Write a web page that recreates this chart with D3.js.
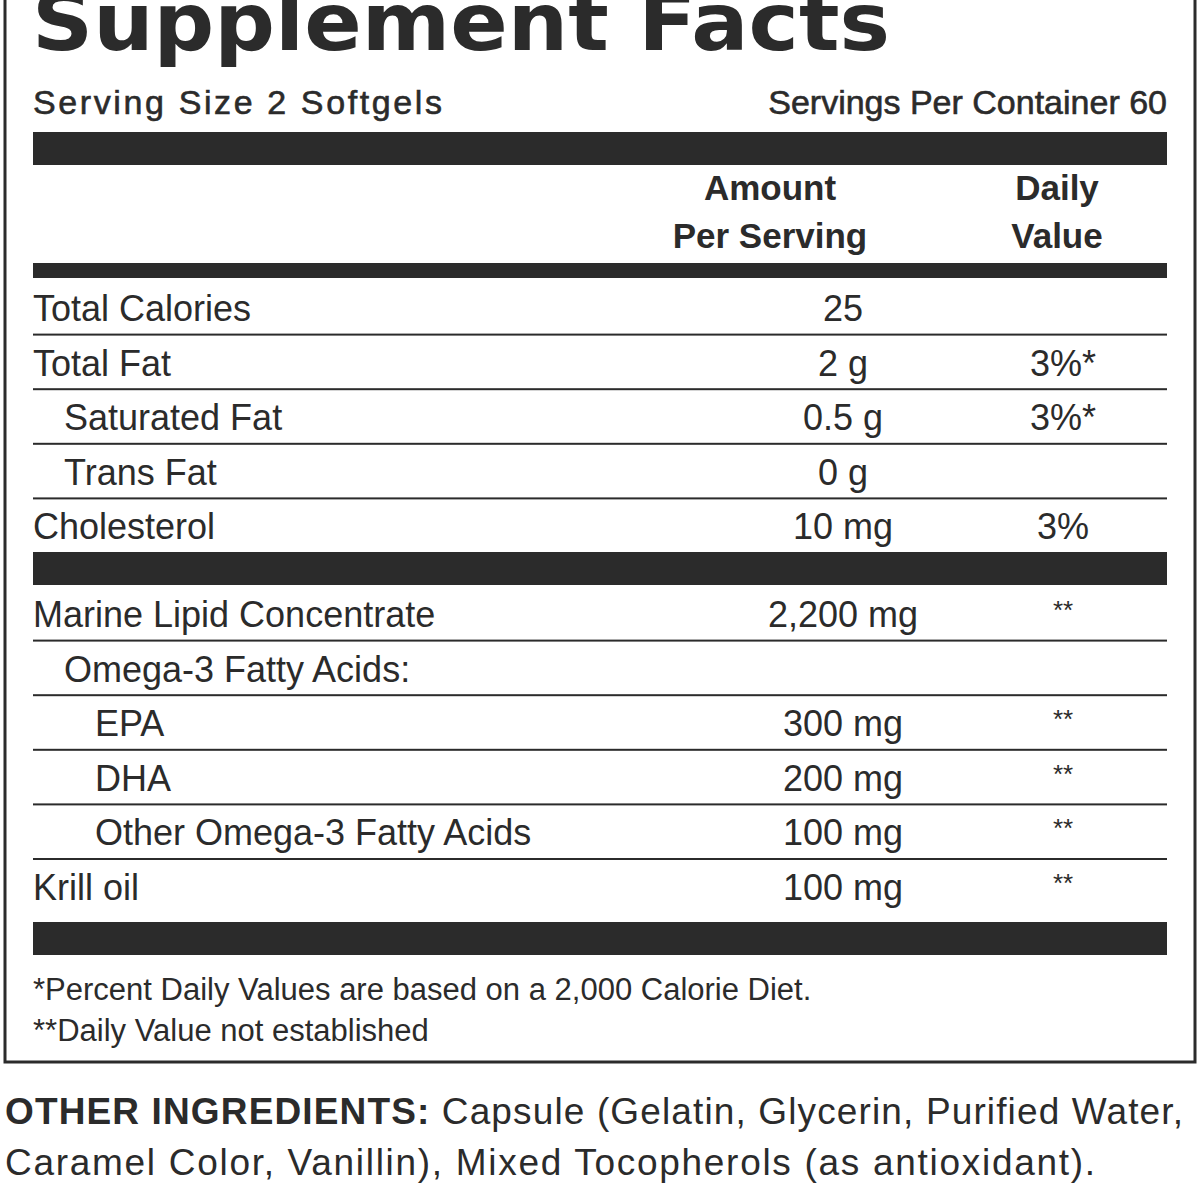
<!DOCTYPE html>
<html><head><meta charset="utf-8">
<script src="https://cdn.jsdelivr.net/npm/d3@7"></script>
<style>body{margin:0;background:#fff}</style></head>
<body><svg id="c" width="1200" height="1200"></svg>
<script>
const group1Labels=["Total Calories","Total Fat","Saturated Fat","Trans Fat","Cholesterol"];
const group1Amounts=["25","2 g","0.5 g","0 g","10 mg"];
const group1DV=["","3%*","3%*","","3%"];
const group1Indent=[0,0,1,1,0];
const group2Labels=["Marine Lipid Concentrate","Omega-3 Fatty Acids:","EPA","DHA","Other Omega-3 Fatty Acids","Krill oil"];
const group2Amounts=["2,200 mg","","300 mg","200 mg","100 mg","100 mg"];
const group2DV=["**","","**","**","**","**"];
const group2Indent=[0,1,2,2,2,0];
const footnotes=["*Percent Daily Values are based on a 2,000 Calorie Diet.","**Daily Value not established"];

const svg=d3.select("#c");
const ink="#2b2b2b";
const F="'Liberation Sans',Arial,sans-serif";
const xAmt=843,xDV=1063,x0=33,x1=1167;
svg.append("rect").attr("x",5).attr("y",-10).attr("width",1190).attr("height",1072)
 .attr("fill","none").attr("stroke",ink).attr("stroke-width",3);
svg.append("text").attr("x",32).attr("y",50).attr("font-family","'DejaVu Sans',sans-serif")
 .attr("font-weight",700).attr("font-size",80).attr("fill",ink).attr("textLength",858)
 .attr("lengthAdjust","spacingAndGlyphs").text("Supplement Facts");
const T=(t,x,y,o={})=>svg.append("text").attr("x",x).attr("y",y).attr("font-family",F)
 .attr("font-size",o.size||35).attr("font-weight",o.w||400).attr("fill",ink)
 .attr("text-anchor",o.a||"start").text(t);
T("Serving Size 2 Softgels",x0,114,{size:34,w:700}).attr("textLength",409).attr("font-weight",400).attr("stroke",ink).attr("stroke-width",0.6);
T("Servings Per Container 60",1167,114,{size:34,a:"end"}).attr("stroke",ink).attr("stroke-width",0.6);
const bar=(y,h)=>svg.append("rect").attr("x",x0).attr("y",y).attr("width",x1-x0).attr("height",h).attr("fill",ink);
bar(132,33);
[["Amount",770,200],["Per Serving",770,248],["Daily",1057,200],["Value",1057,248]].forEach(([t,x,y])=>T(t,x,y,{size:35,w:700,a:"middle"}));
bar(263,15);
function group(labels,amts,dvs,ind,yTop){
  const y=d3.scaleLinear().domain([0,1]).range([yTop,yTop+54.6]);
  labels.forEach((l,i)=>{
    const base=y(i)+41;
    T(l,x0+ind[i]*31,base,{size:36});
    T(amts[i],xAmt,base,{size:36,a:"middle"});
    const star=dvs[i]==="**";
    T(dvs[i],xDV,star?base-8:base,{size:star?26:36,a:"middle"});
    if(i<labels.length-1) svg.append("rect").attr("x",x0).attr("y",y(i+1)-1).attr("width",x1-x0).attr("height",2).attr("fill",ink);
  });
}
group(group1Labels,group1Amounts,group1DV,group1Indent,280);
bar(552,33);
group(group2Labels,group2Amounts,group2DV,group2Indent,586);
bar(922,33);
footnotes.forEach((t,i)=>T(t,x0,1000+i*41,{size:31}));
const oi=svg.append("text").attr("x",5).attr("y",1124).attr("font-family",F).attr("font-size",37).attr("fill",ink).attr("textLength",1178);
oi.append("tspan").attr("font-weight",700).text("OTHER INGREDIENTS: ");
oi.append("tspan").text("Capsule (Gelatin, Glycerin, Purified Water,");
T("Caramel Color, Vanillin), Mixed Tocopherols (as antioxidant).",5,1175,{size:37}).attr("textLength",1090);
</script></body></html>
